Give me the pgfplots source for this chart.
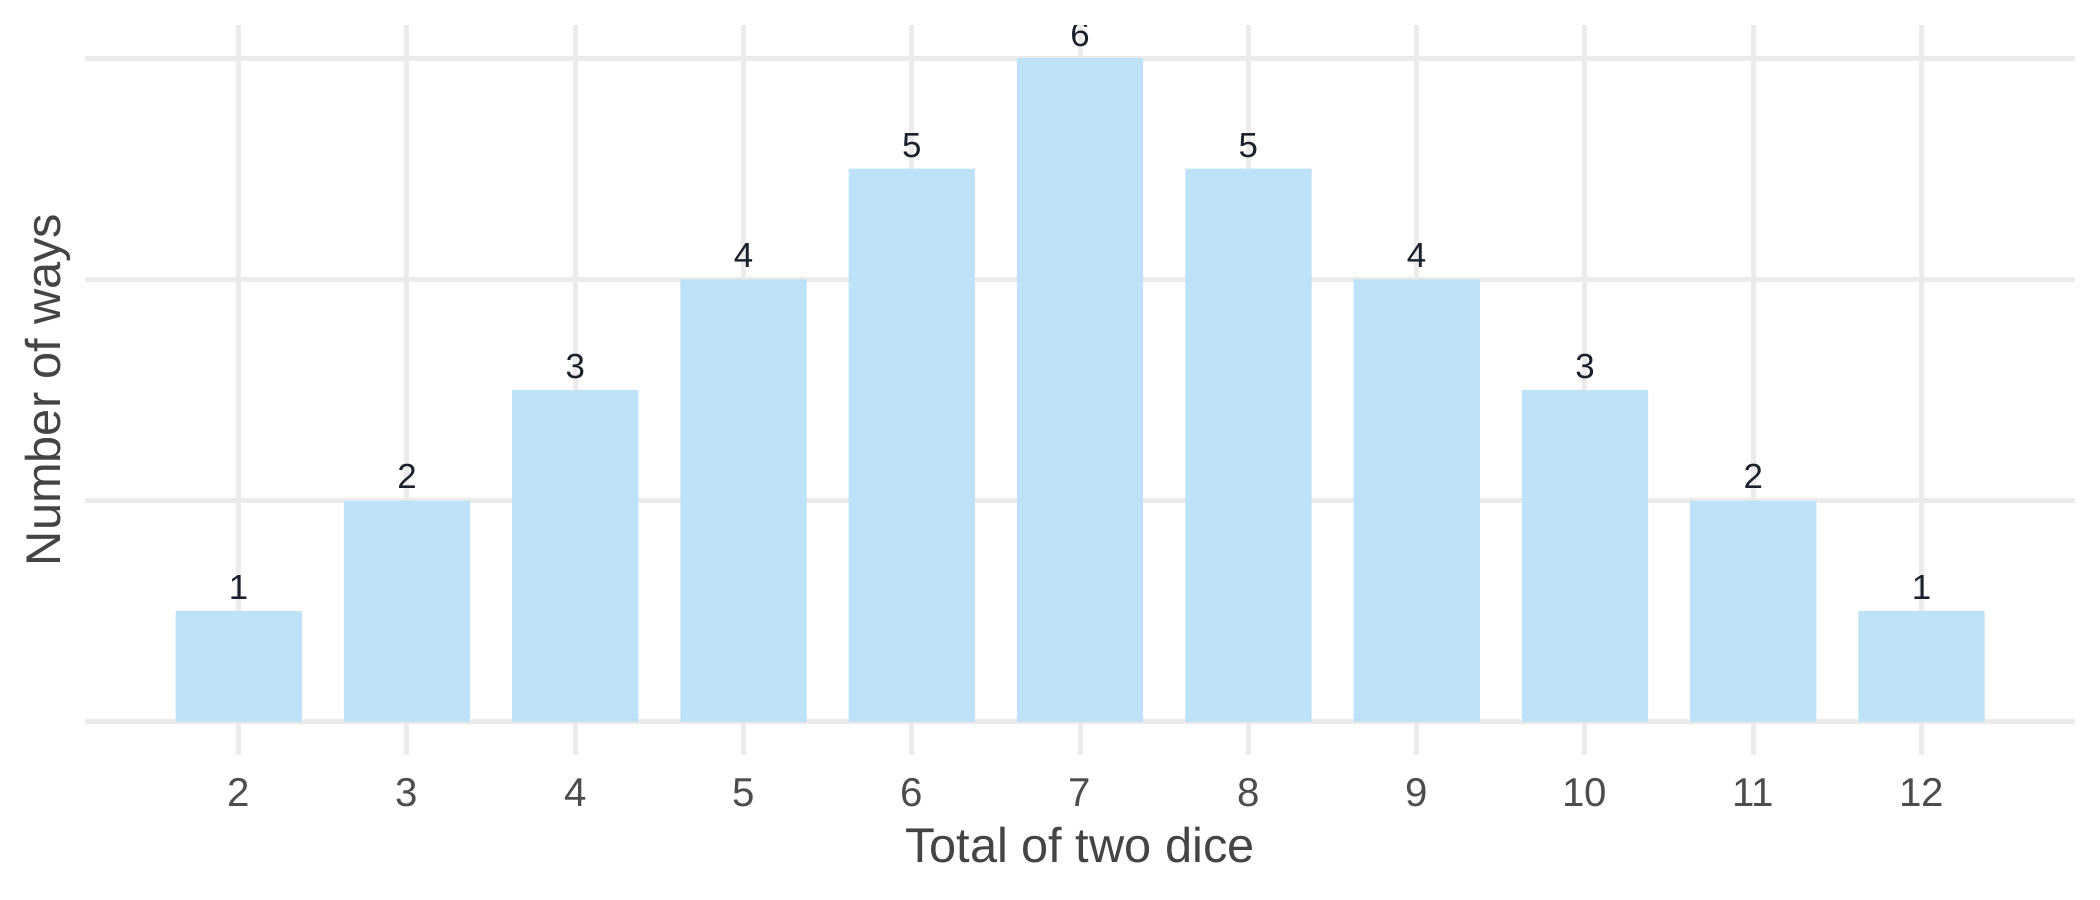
\documentclass[border=0pt]{standalone}
\usepackage{fontspec}
\setmainfont{Liberation Sans}
\usepackage{pgfplots}
\usepackage{pgfplotstable}
\pgfplotsset{compat=1.18}

\definecolor{barblue}{HTML}{BEE3F8}
\definecolor{gridgrey}{HTML}{EBEBEB}
\definecolor{ticktext}{HTML}{4D4D4D}
\definecolor{titletext}{HTML}{444444}
\definecolor{labeltext}{HTML}{1A202C}

% ways to roll each total with two dice
\pgfplotstableread{
total ways
2  1
3  2
4  3
5  4
6  5
7  6
8  5
9  4
10 3
11 2
12 1
}\dicetable

\begin{document}
\begin{tikzpicture}
\begin{axis}[
    name=ax,
    scale only axis,
    width=479.4pt, height=175.9pt,
    xmin=1.0875, xmax=12.9125,
    ymin=-0.3, ymax=6.3,
    ybar, bar width=0.75,
    clip=true,
    xtick={2,...,12},
    ytick={0,2,4,6},
    yticklabels={},
    grid=major,
    major grid style={gridgrey, line width=1.2pt},
    axis line style={draw=none},
    major tick length=0pt,
    /pgf/number format/assume math mode=true,
    xticklabel style={font=\fontsize{9.7}{11}\selectfont, text=ticktext,
        anchor=base, inner sep=0pt, yshift=-12.5pt},
    xlabel={Total of two dice},
    ylabel={Number of ways},
    every axis x label/.style={at={(rel axis cs:0.5,0)}, anchor=base,
        yshift=-26pt, font=\fontsize{11.75}{14}\selectfont, text=titletext},
    every axis y label/.style={at={(rel axis cs:0,0.5)}, xshift=-6pt,
        rotate=90, anchor=base, font=\fontsize{11.75}{14}\selectfont, text=titletext},
]
\addplot[fill=barblue, draw=none,
    nodes near coords,
    every node near coord/.append style={font=\fontsize{8.4}{10}\selectfont,
        text=labeltext, anchor=base, inner sep=0pt, yshift=2.8pt}]
    table[x=total, y=ways] {\dicetable};
\end{axis}
% labels are cut at the top of the panel, as in the original
\fill[white] (ax.north west) rectangle ([yshift=12pt]ax.north east);
\pgfresetboundingbox
\path ([shift={(-20.5pt,-34.9pt)}]ax.south west) rectangle ([shift={(6.0pt,6.0pt)}]ax.north east);
\end{tikzpicture}
\end{document}
